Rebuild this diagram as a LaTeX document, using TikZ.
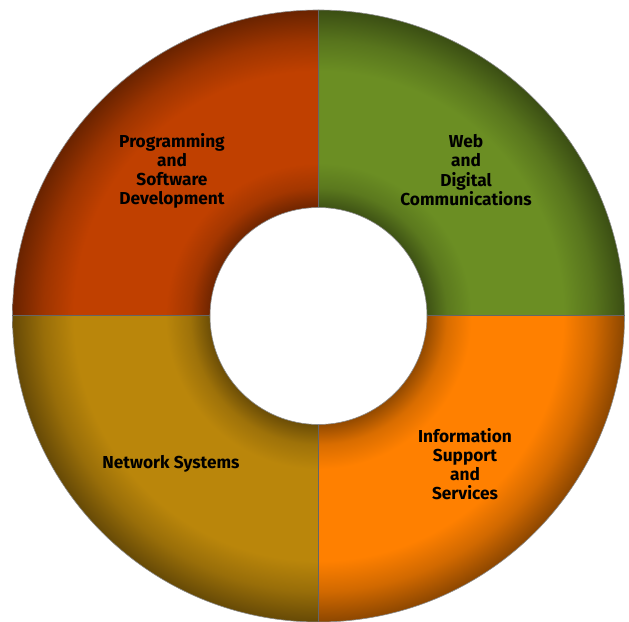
\documentclass[tikz,border=0pt]{standalone}
\usepackage{fontspec}
\setmainfont{Fira Sans}
\definecolor{cTL}{RGB}{192,64,0}
\definecolor{cTR}{RGB}{107,142,35}
\definecolor{cBR}{RGB}{255,128,0}
\definecolor{cBL}{RGB}{186,134,11}
\newcommand{\declring}[2]{%
  \pgfdeclareradialshading{#1}{\pgfpoint{0bp}{0bp}}{%
    color(0bp)=(#2!55!black);
    color(8.86bp)=(#2!58!black);
    color(10.5bp)=(#2!85!black);
    color(12.5bp)=(#2);
    color(20bp)=(#2);
    color(22.5bp)=(#2!82!black);
    color(25bp)=(#2!55!black);
    color(50bp)=(#2!55!black)}}
\declring{ringTL}{cTL}
\declring{ringTR}{cTR}
\declring{ringBR}{cBR}
\declring{ringBL}{cBL}
\tikzset{
  lbl/.style={font=\bfseries\fontsize{17.3}{19.2}\selectfont, align=center, text=black, inner sep=0pt},
  edge/.style={draw=black!60, line width=1pt}
}
\begin{document}
\begin{tikzpicture}[x=1pt,y=1pt]
\useasboundingbox (-318.5,-305) rectangle (310.5,316);
\def\R{306}
\def\r{108.5}
\coordinate (O) at (0,0);
% quadrants
\foreach \a/\s in {90/ringTL, 0/ringTR, 270/ringBR, 180/ringBL}{
  \begin{scope}
    \clip (\a:\r) -- (\a:\R) arc[start angle=\a, end angle=\a+90, radius=\R] -- (\a+90:\r) arc[start angle=\a+90, end angle=\a, radius=\r] -- cycle;
    \shade[shading=\s] (O) circle (\R);
  \end{scope}
}
% outlines
\draw[black!45, line width=0.6pt] (O) circle (\R);
\draw[black!45, line width=0.6pt] (O) circle (\r);
\coordinate (iN) at (0,\r);   \coordinate (oN) at (0,\R);
\coordinate (iS) at (0,-\r);  \coordinate (oS) at (0,-\R);
\coordinate (iE) at (\r,0);   \coordinate (oE) at (\R,0);
\coordinate (iW) at (-\r,0);  \coordinate (oW) at (-\R,0);
\draw[edge] (iN) -- (oN);
\draw[edge] (iS) -- (oS);
\draw[edge] (iE) -- (oE);
\draw[edge] (iW) -- (oW);
% labels
\node[lbl] (prog) at (-146.5,145) {Programming\\and\\Software\\Development};
\node[lbl] (web) at (147.5,146) {Web\\and\\Digital\\Communications};
\node[lbl] (info) at (146.5,-148) {Information\\Support\\and\\Services};
\node[lbl] (net) at (-147.5,-148) {Network Systems};
\end{tikzpicture}
\end{document}
